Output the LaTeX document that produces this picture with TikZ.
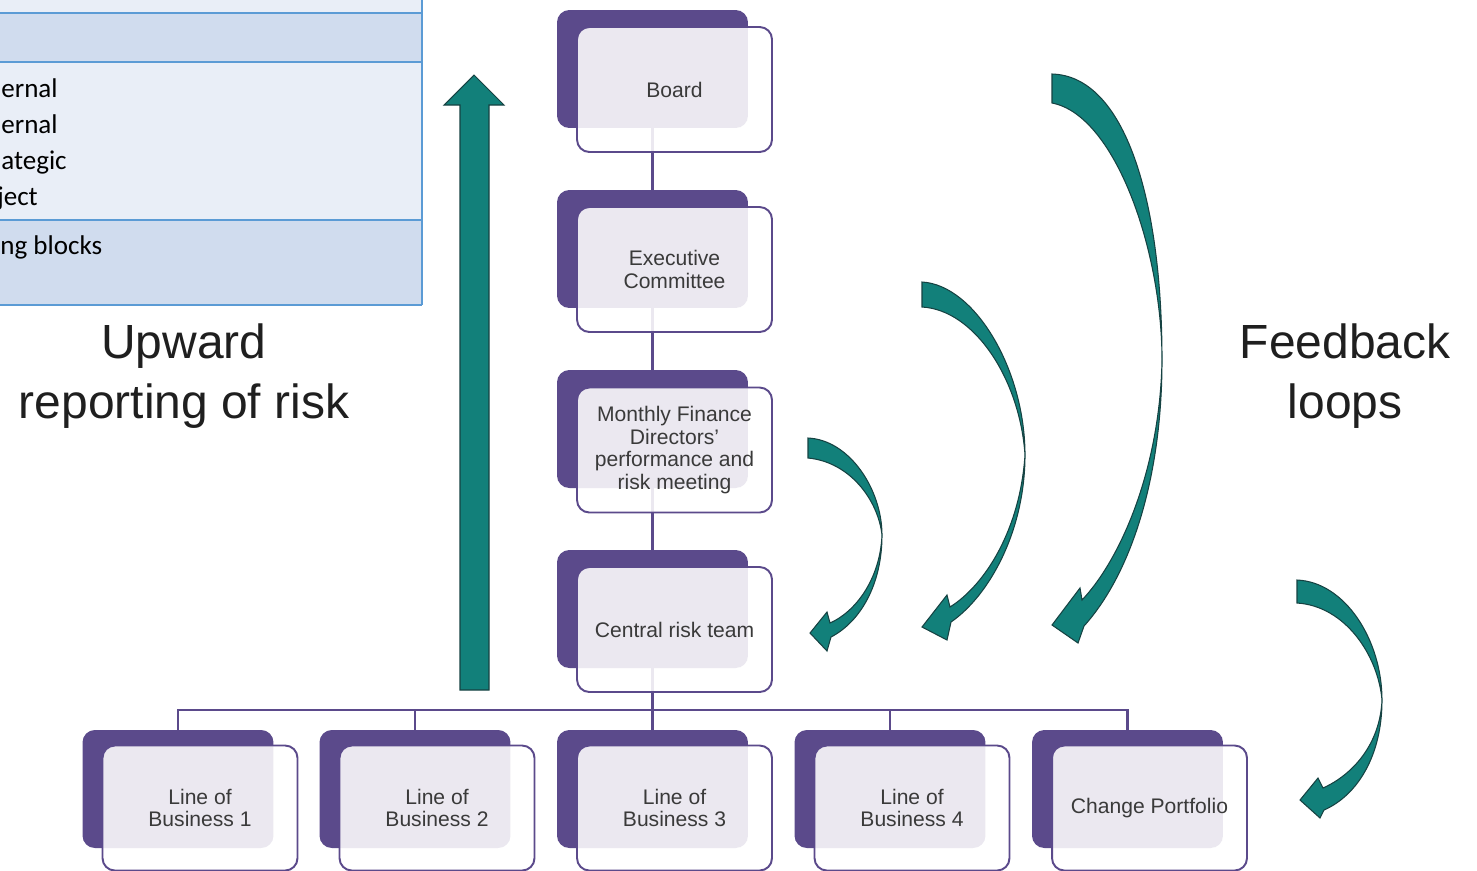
\documentclass[tikz,border=0pt]{standalone}
\usepackage{fontspec}
\setmainfont{Liberation Sans}
\newfontfamily\calibri{Carlito}
\usetikzlibrary{positioning}
\definecolor{lobpurple}{RGB}{91,74,139}
\definecolor{loopteal}{RGB}{18,128,122}
\definecolor{loopedge}{RGB}{22,66,66}
\definecolor{boxtext}{RGB}{58,58,58}
\definecolor{tabline}{RGB}{91,155,213}
\definecolor{tabdark}{RGB}{208,220,238}
\definecolor{tablight}{RGB}{233,238,247}
\tikzset{
    backbox/.style = {rectangle, rounded corners=7pt, fill=lobpurple, minimum width=3.82cm, minimum height=2.36cm},
    frontbox/.style = {rectangle, rounded corners=7pt, draw=lobpurple, line width=1.1pt, fill=white, fill opacity=0.88, text opacity=1, minimum width=3.9cm, minimum height=2.5cm, align=center, text=boxtext, font=\fontsize{12}{12.8}\selectfont},
    edgep/.style = {draw=lobpurple, line width=1.4pt},
    looparrow/.style = {fill=loopteal, draw=loopedge, line width=0.6pt, line join=miter},
    tabrow/.style = {font=\calibri\fontsize{15.4}{18}\selectfont, anchor=base west, inner sep=0pt},
    bigtext/.style = {align=center, font=\fontsize{27.3}{34}\selectfont, text=black!88}
}

\begin{document}
\begin{tikzpicture}[x=0.02cm, y=-0.02cm]
\useasboundingbox (0,0) rectangle (1477,870);

% table (cut off)
\fill[tablight] (-5,-5) rectangle (422,13);
\fill[tabdark] (-5,13) rectangle (422,62);
\fill[tablight] (-5,62) rectangle (422,220);
\fill[tabdark] (-5,220) rectangle (422,305);
\draw[tabline, line width=1.1pt] (-5,13) -- (422,13) (-5,62) -- (422,62)
    (-5,220) -- (422,220) (-5,305) -- (422,305) (422,-5) -- (422,305);
\node[tabrow] at (1,97) (t1) {ernal};
\node[tabrow] at (1,133) (t2) {ernal};
\node[tabrow] at (1,169) (t3) {ategic};
\node[tabrow] at (-3,205) (t4) {ject};
\node[tabrow] at (0,254) (t5) {ng blocks};

% labels
\node[bigtext] at (184,376) (up) {Upward\\reporting of risk};
\node[bigtext] at (1345,376) (fb) {Feedback\\loops};

% back boxes
\node[backbox] at (652.5,69) (boardb) {};
\node[backbox] at (652.5,249) (execb) {};
\node[backbox] at (652.5,429) (mfdb) {};
\node[backbox] at (652.5,609) (crtb) {};
\node[backbox] at (178,789) (lob1b) {};
\node[backbox] at (415,789) (lob2b) {};
\node[backbox] at (652.5,789) (lob3b) {};
\node[backbox] at (890,789) (lob4b) {};
\node[backbox] at (1127.5,789) (changeb) {};
%
\draw[edgep] (boardb) -- (execb);
\draw[edgep] (execb) -- (mfdb);
\draw[edgep] (mfdb) -- (crtb);
\coordinate (bus) at (652.5,710);
\draw[edgep] (crtb) -- (bus);
\foreach \n in {lob1b,lob2b,lob3b,lob4b,changeb}
    \draw[edgep] (bus) -| (\n);

% front boxes
\node[frontbox] at (674.5,89.5) (board) {Board};
\node[frontbox] at (674.5,269.5) (exec) {Executive\\Committee};
\node[frontbox] at (674.5,450) (mfd) {Monthly Finance\\Directors'\\performance and\\risk meeting};
\node[frontbox] at (674.5,629.5) (crt) {Central risk team};
\node[frontbox] at (200,808) (lob1) {Line of\\Business 1};
\node[frontbox] at (437,808) (lob2) {Line of\\Business 2};
\node[frontbox] at (674.5,808) (lob3) {Line of\\Business 3};
\node[frontbox] at (912,808) (lob4) {Line of\\Business 4};
\node[frontbox] at (1149.5,808) (change) {Change Portfolio};

% upward arrow
\filldraw[looparrow] (460,690) -- (460,105) -- (444,105) -- (474,75) -- (504,105)
    -- (489,105) -- (489,690) -- cycle;

% feedback loops
\filldraw[looparrow] (808,438) .. controls (850,440) and (882,490) .. (882,535)
    .. controls (882,585) and (860,622) .. (831,637) -- (827,651) -- (810,633) -- (827,612) -- (830,623)
    .. controls (855,612) and (880,580) .. (882,535)
    .. controls (878,500) and (850,462) .. (808,458) -- cycle;
\filldraw[looparrow] (922,282) .. controls (975,285) and (1025,370) .. (1025,455)
    .. controls (1025,530) and (990,595) .. (951,622) -- (947,640) -- (922,627) -- (947,595) -- (950,607)
    .. controls (985,585) and (1020,530) .. (1025,455)
    .. controls (1020,380) and (975,310) .. (922,307) -- cycle;
\filldraw[looparrow] (1052,74) .. controls (1125,76) and (1162,200) .. (1162,360)
    .. controls (1162,480) and (1130,575) .. (1084,626) -- (1078,643) -- (1052,625) -- (1080,588) -- (1082,600)
    .. controls (1120,560) and (1160,470) .. (1162,360)
    .. controls (1162,250) and (1115,115) .. (1052,103) -- cycle;
\filldraw[looparrow] (1297,580) .. controls (1345,582) and (1382,640) .. (1382,700)
    .. controls (1382,755) and (1358,795) .. (1324,810) -- (1320,818) -- (1300,800) -- (1318,778) -- (1323,788)
    .. controls (1352,775) and (1380,745) .. (1382,700)
    .. controls (1378,655) and (1345,606) .. (1297,603) -- cycle;

\end{tikzpicture}
\end{document}
